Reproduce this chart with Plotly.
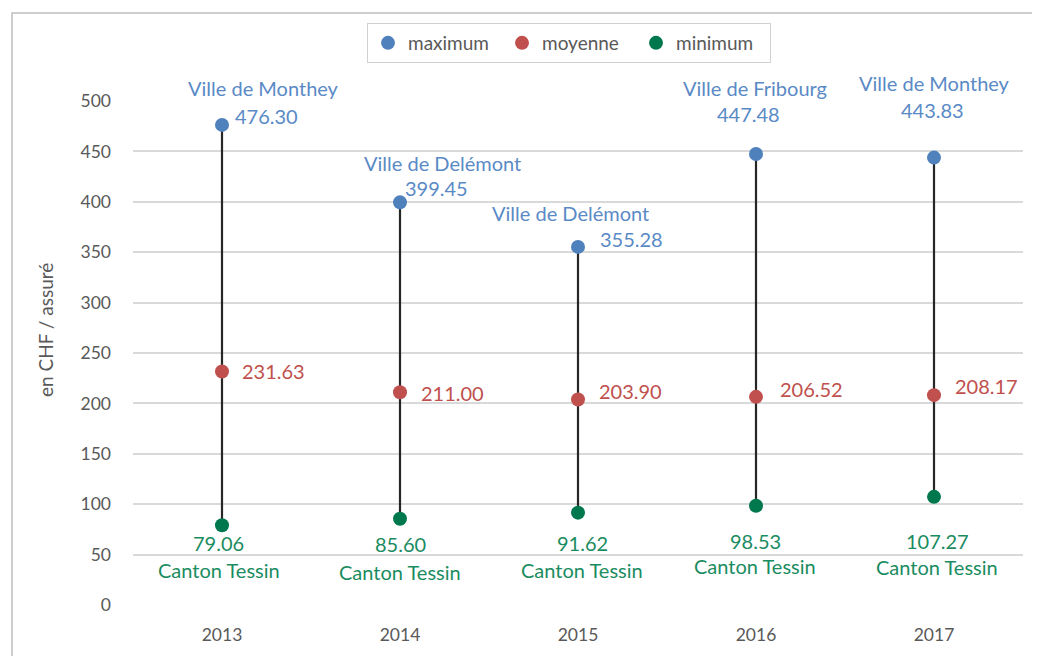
import plotly.graph_objects as go

years = ["2013", "2014", "2015", "2016", "2017"]
maximum = [476.30, 399.45, 355.28, 447.48, 443.83]
moyenne = [231.63, 211.00, 203.90, 206.52, 208.17]
minimum = [79.06, 85.60, 91.62, 98.53, 107.27]
max_names = ["Ville de Monthey", "Ville de Delémont", "Ville de Delémont", "Ville de Fribourg", "Ville de Monthey"]
min_names = ["Canton Tessin"] * 5

xpos = list(range(len(years)))

# label offsets (px): (name dx, name dy, value dx, value dy)
max_off = [(41, 37, 11, 9), (42, 39, 36, 14), (-8, 34, 53, 8), (-1, 66, -8, 40), (0, 75, -2, 48)]
min_off = [(-3, -45, -4, -18), (0, -53, 0, -25), (4, -57, 4, -30), (-1, -60, -1, -35), (3, -70, 3, -44)]
mean_off = [(18, 1), (19, -1), (19, 8), (22, 8), (19, 9)]

C_MAX, C_MEAN, C_MIN = "#4f81bd", "#c0504d", "#00784e"
T_MAX, T_MEAN, T_MIN = "#5a8ac6", "#c0504d", "#1a8c5f"
FONT = "Lato"
LBL = 20

fig = go.Figure()

lx, ly = [], []
for xp, lo, hi in zip(xpos, minimum, maximum):
    lx += [xp, xp, None]
    ly += [lo, hi, None]
fig.add_trace(go.Scatter(x=lx, y=ly, mode="lines", line=dict(color="#262626", width=2.2),
                         showlegend=False, hoverinfo="skip"))

for name, vals, col in [("maximum", maximum, C_MAX), ("moyenne", moyenne, C_MEAN), ("minimum", minimum, C_MIN)]:
    fig.add_trace(go.Scatter(x=xpos, y=vals, mode="markers", name=name,
                             marker=dict(color=col, size=14)))

ann = []
for i, xp in enumerate(xpos):
    ndx, ndy, vdx, vdy = max_off[i]
    ann.append(dict(x=xp, y=maximum[i], text=max_names[i], xshift=ndx, yshift=ndy,
                    showarrow=False, font=dict(color=T_MAX, size=LBL, family=FONT)))
    ann.append(dict(x=xp, y=maximum[i], text=f"{maximum[i]:.2f}", xshift=vdx, yshift=vdy,
                    showarrow=False, xanchor="left" if i == 0 else "center",
                    font=dict(color=T_MAX, size=LBL, family=FONT)))
    mdx, mdy = mean_off[i]
    ann.append(dict(x=xp, y=moyenne[i], text=f"{moyenne[i]:.2f}", xshift=mdx, yshift=mdy,
                    showarrow=False, xanchor="left",
                    font=dict(color=T_MEAN, size=LBL, family=FONT)))
    ndx, ndy, vdx, vdy = min_off[i]
    ann.append(dict(x=xp, y=minimum[i], text=f"{minimum[i]:.2f}", xshift=vdx, yshift=vdy,
                    showarrow=False, font=dict(color=T_MIN, size=LBL, family=FONT)))
    ann.append(dict(x=xp, y=minimum[i], text=min_names[i], xshift=ndx, yshift=ndy,
                    showarrow=False, font=dict(color=T_MIN, size=LBL, family=FONT)))

# the page body has an 8px margin; figure coordinates = page coordinates - 8
W, H = 1032, 648
L, R, T, B = 125, 17, 93, 51
pw, ph = W - L - R, H - T - B

# y-axis title
ann.append(dict(xref="paper", yref="paper", x=0, y=1 - (322 - T) / ph, xshift=37 - L,
                xanchor="center", yanchor="middle",
                text="en CHF / assuré", textangle=-90, showarrow=False,
                font=dict(size=19, color="#595959", family=FONT)))

fig.update_layout(
    width=W, height=H,
    margin=dict(l=L, r=R, t=T, b=B),
    plot_bgcolor="white", paper_bgcolor="white",
    font=dict(family=FONT, color="#595959", size=17.5),
    annotations=ann,
    showlegend=True,
    legend=dict(orientation="h", x=(561 - L) / pw, xanchor="center",
                y=1 + (T - 15) / ph, yanchor="top",
                bordercolor="#d0d0d0", borderwidth=1,
                font=dict(size=19, color="#595959", family=FONT),
                itemwidth=30, entrywidth=89),
    xaxis=dict(range=[-0.5, len(years) - 0.5], tickvals=xpos, ticktext=years,
               showgrid=False, zeroline=False, showline=False,
               ticks="", ticklabelstandoff=17, tickfont=dict(size=17.5, color="#595959")),
    yaxis=dict(range=[0, 500], dtick=50, tick0=0, showgrid=True, gridcolor="#d9d9d9",
               gridwidth=1.5, zeroline=False, showline=False, ticks="",
               ticklabelstandoff=21, tickfont=dict(size=17.5, color="#595959")),
    shapes=[dict(type="rect", xref="paper", yref="paper",
                 x0=(4 - L) / pw, x1=(W + 10 - L) / pw,
                 y0=-(B + 10) / ph, y1=1 + (T - 5) / ph,
                 line=dict(color="#bfbfbf", width=1.5), fillcolor="rgba(0,0,0,0)", layer="below")],
)

fig.write_html("out.html")
